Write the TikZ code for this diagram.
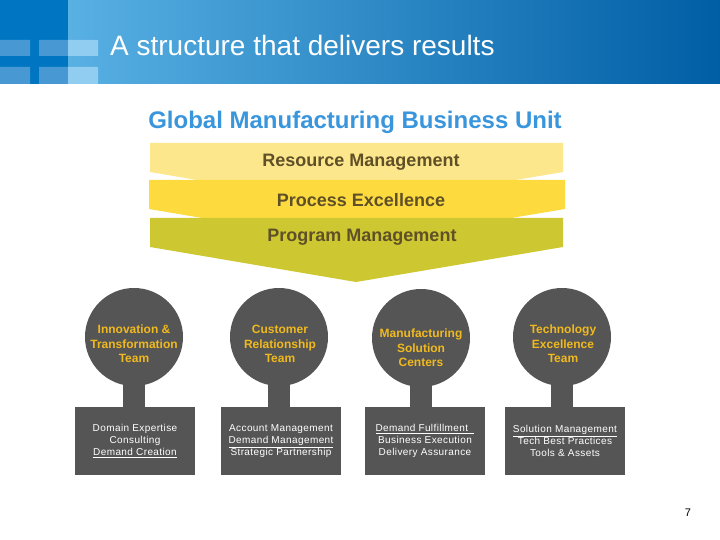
\documentclass[tikz,border=0pt]{standalone}
\usepackage{fontspec}
\setmainfont{Liberation Sans}
\usetikzlibrary{backgrounds}
\definecolor{hdrdark}{RGB}{0,118,194}
\definecolor{hdrmid}{RGB}{72,152,212}
\definecolor{hdrlight}{RGB}{145,205,240}
\definecolor{gradL}{RGB}{88,176,227}
\definecolor{gradR}{RGB}{0,94,165}
\definecolor{unitblue}{RGB}{58,150,220}
\definecolor{bandA}{RGB}{253,231,140}
\definecolor{bandB}{RGB}{253,218,62}
\definecolor{bandC}{RGB}{205,200,50}
\definecolor{bandtext}{RGB}{95,80,40}
\definecolor{teamgray}{RGB}{85,85,85}
\definecolor{teamyellow}{RGB}{240,185,30}
\begin{document}
\begin{tikzpicture}[x=1pt,y=-1pt,
  bandlabel/.style={anchor=base, text=bandtext, font=\fontsize{18}{21}\selectfont\bfseries, inner sep=0pt},
  teamcircle/.style={circle, fill=teamgray, minimum size=98pt, inner sep=0pt},
  teamlabel/.style={align=center, text=teamyellow, font=\fontsize{12}{14.5}\selectfont\bfseries},
  rolebox/.style={fill=teamgray, minimum width=120pt, minimum height=68pt, inner sep=0pt, align=center, text=white, font=\fontsize{10}{12}\selectfont\addfontfeatures{LetterSpace=4}},
  stem/.style={teamgray, line width=22pt}
]
\useasboundingbox (0,0) rectangle (720,540);
% header
\shade[left color=gradL, right color=gradR] (68,0) rectangle (720,84);
\fill[hdrdark] (0,0) rectangle (68,84);
\fill[hdrmid] (0,40) rectangle (30,56) (39,40) rectangle (68,56)
              (0,67) rectangle (30,84) (39,67) rectangle (68,84);
\fill[hdrlight] (68,40) rectangle (98,56) (68,67) rectangle (98,84);
\node[anchor=base west, text=white, font=\fontsize{28}{32}\selectfont, inner sep=0pt] (title) at (110,56) {A structure that delivers results};
% unit title
\node[anchor=base, text=unitblue, font=\fontsize{24}{28}\selectfont\bfseries, inner sep=0pt] (unit) at (355,129) {Global Manufacturing Business Unit};
% bands
\fill[bandA] (150,143) -- (563,143) -- (563,172) -- (356,207) -- (150,172) -- cycle;
\fill[bandB] (149,180) -- (565,180) -- (565,209) -- (356,244) -- (149,209) -- cycle;
\fill[bandC] (150,218) -- (563,218) -- (563,247) -- (356,282) -- (150,247) -- cycle;
\node[bandlabel] (rm) at (361,167) {Resource Management};
\node[bandlabel] (pe) at (361,207) {Process Excellence};
\node[bandlabel] (pm) at (362,241) {Program Management};
% teams
\node[teamcircle] (c1) at (134,337) {};
\node[teamcircle] (c2) at (279,337) {};
\node[teamcircle] (c3) at (421,338) {};
\node[teamcircle] (c4) at (562,337) {};
\node[teamlabel] (t1) at (134,344) {Innovation \&\\Transformation\\Team};
\node[teamlabel] (t2) at (280,344) {Customer\\Relationship\\Team};
\node[teamlabel] (t3) at (421,348) {Manufacturing\\Solution\\Centers};
\node[teamlabel] (t4) at (563,344) {Technology\\Excellence\\Team};
\node[rolebox] (b1) at (135,441) {Domain Expertise\\Consulting\\\underline{Demand Creation}};
\node[rolebox] (b2) at (281,441) {Account Management\\\underline{Demand Management}\\Strategic Partnership};
\node[rolebox] (b3) at (425,441) {\underline{Demand Fulfillment\ \ }\\Business Execution\\Delivery Assurance};
\node[rolebox] (b4) at (565,441) {\underline{Solution Management}\\Tech Best Practices\\Tools \& Assets};
\begin{scope}[on background layer]
\fill[white] (0,0) rectangle (720,540);
\draw[stem] (c1.center) -- (c1.center |- b1.north);
\draw[stem] (c2.center) -- (c2.center |- b2.north);
\draw[stem] (c3.center) -- (c3.center |- b3.north);
\draw[stem] (c4.center) -- (c4.center |- b4.north);
\end{scope}
\node[anchor=base, font=\fontsize{11}{13}\selectfont, inner sep=0pt] (page) at (688,516) {7};
\end{tikzpicture}
\end{document}
